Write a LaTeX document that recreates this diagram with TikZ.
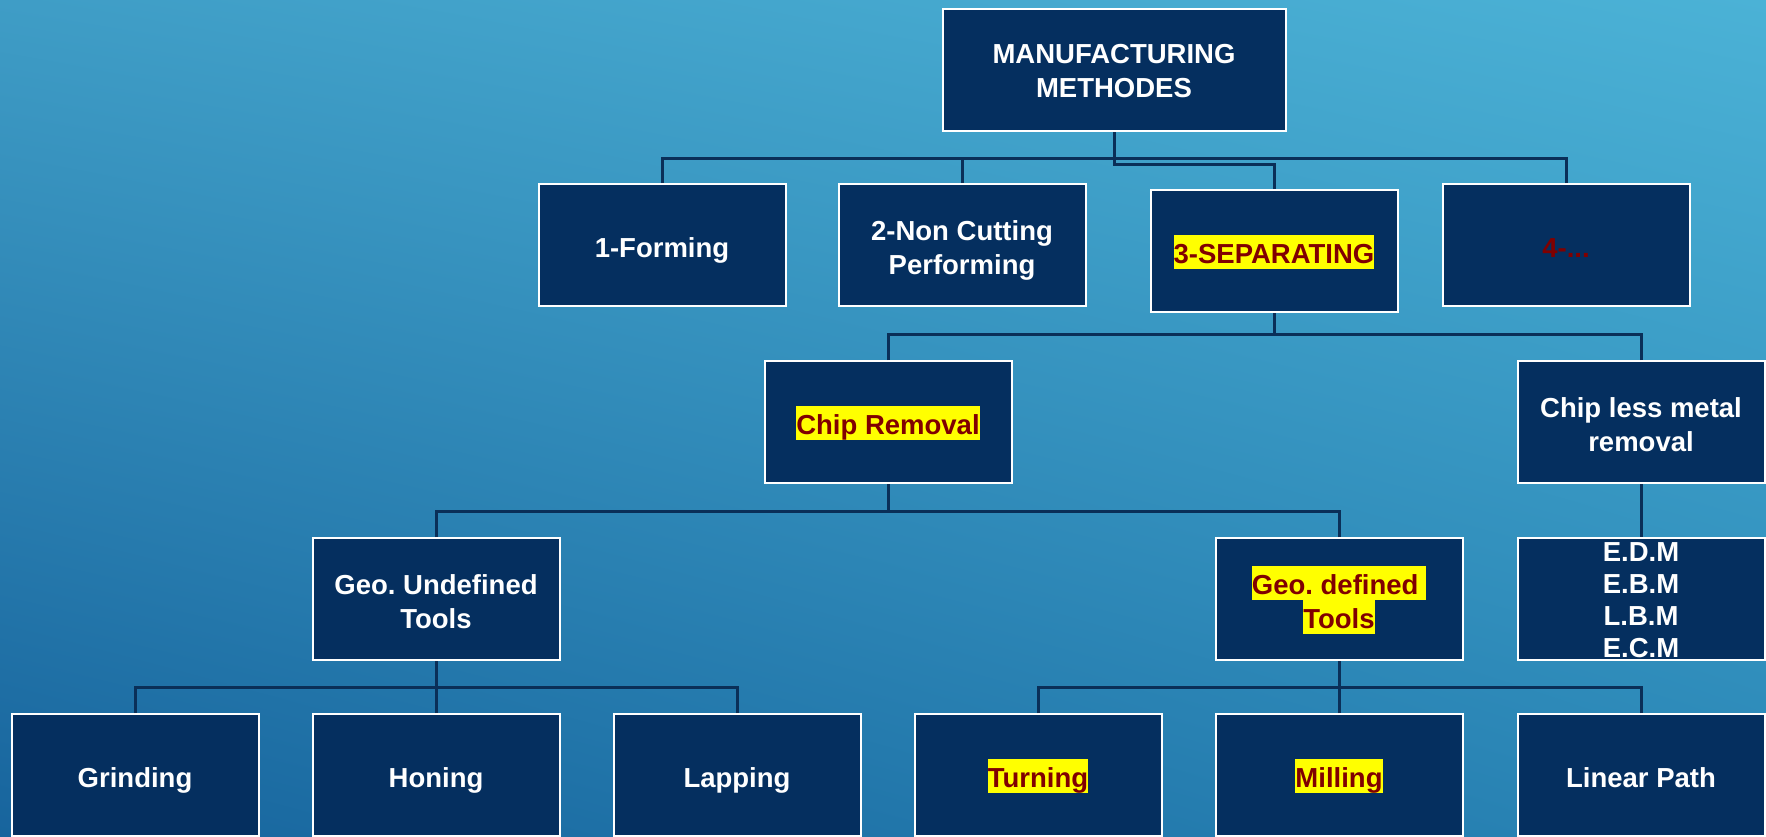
\documentclass[tikz,border=0pt]{standalone}
\usepackage{fontspec}
\setmainfont{Liberation Sans}
\usepackage{xcolor}
\usepackage{tikz}
\usetikzlibrary{positioning,calc,shadings}
\definecolor{boxnavy}{HTML}{052F5F}
\definecolor{linknavy}{HTML}{0A2F58}
\definecolor{chipred}{HTML}{800000}
\definecolor{hiyellow}{HTML}{FFFF00}
\definecolor{bgtl}{HTML}{3F9DC6}
\definecolor{bgtr}{HTML}{4BB2D6}
\definecolor{bgbl}{HTML}{17649D}
\definecolor{bgbr}{HTML}{2A86B6}

% yellow marker behind a line of red text
\newcommand{\hilite}[1]{{\setlength{\fboxsep}{0pt}\colorbox{hiyellow}{\rule[-6pt]{0pt}{34pt}\textcolor{chipred}{#1}}}}
\frenchspacing

\begin{document}
\begin{tikzpicture}[x=1pt,y=-1pt,
  stage/.style={draw=white,line width=2pt,fill=boxnavy,text=white,
               minimum width=247pt,minimum height=122pt,inner sep=0pt,
               align=center,font=\bfseries\fontsize{27.5}{34}\selectfont,
               text height=30pt,text depth=6pt},
  twoline/.style={text height=64pt},
  link/.style={draw=linknavy,line width=3pt},
]
  \useasboundingbox (0,0) rectangle (1766,836);
  \shade[upper left=bgtl,upper right=bgtr,lower left=bgbl,lower right=bgbr]
    (0,0) rectangle (1766,836);

  % root and the four method groups
  \node[stage,twoline,text height=61pt,minimum width=343pt] (top) at (1114,70)
    {MANUFACTURING\\METHODES};
  \node[stage] (form)   at (662,245)  {1-Forming};
  \node[stage,twoline] (noncut) at (962,245)  {2-Non Cutting\\Performing};
  \node[stage] (sep)    at (1274,251) {\hilite{3-SEPARATING}};
  \node[stage,text=chipred] (more) at (1566,245) {4-...};

  % separating branch
  \node[stage] (chip)     at (888,422)  {\hilite{Chip Removal}};
  \node[stage,twoline] (chipless) at (1641,422) {Chip less metal\\removal};

  \node[stage,twoline] (undef) at (436,599)  {Geo. Undefined\\Tools};
  \node[stage,twoline] (def)   at (1339,599) {\hilite{Geo. defined\ }\\\hilite{Tools}};
  \node[stage,font=\bfseries\fontsize{27.5}{32}\selectfont,
        text height=116pt,text depth=0pt] (beams)
    at (1641,599) {E.D.M\\E.B.M\\L.B.M\\E.C.M};

  % bottom row
  \node[stage] (grind)  at (135,775)  {Grinding};
  \node[stage] (hone)   at (436,775)  {Honing};
  \node[stage] (lap)    at (737,775)  {Lapping};
  \node[stage] (turn)   at (1038,775) {\hilite{Turning}};
  \node[stage] (mill)   at (1339,775) {\hilite{Milling}};
  \node[stage] (linear) at (1641,775) {Linear Path};

  % tree connectors
  \foreach \n in {form,noncut,more}
    \draw[link] (\n.north) -- (\n.north |- 0,158) -| (top.south);
  \draw[link] (sep.north) -- (sep.north |- 0,164) -| (top.south);

  \foreach \n in {chip,chipless}
    \draw[link] (\n.north) -- (\n.north |- 0,334) -| (sep.south);
  \foreach \n in {undef,def}
    \draw[link] (\n.north) -- (\n.north |- 0,511) -| (chip.south);
  \draw[link] (chipless.south) -- (beams.north);

  \foreach \n in {grind,hone,lap}
    \draw[link] (\n.north) -- (\n.north |- 0,687) -| (undef.south);
  \foreach \n in {turn,mill,linear}
    \draw[link] (\n.north) -- (\n.north |- 0,687) -| (def.south);
\end{tikzpicture}
\end{document}
